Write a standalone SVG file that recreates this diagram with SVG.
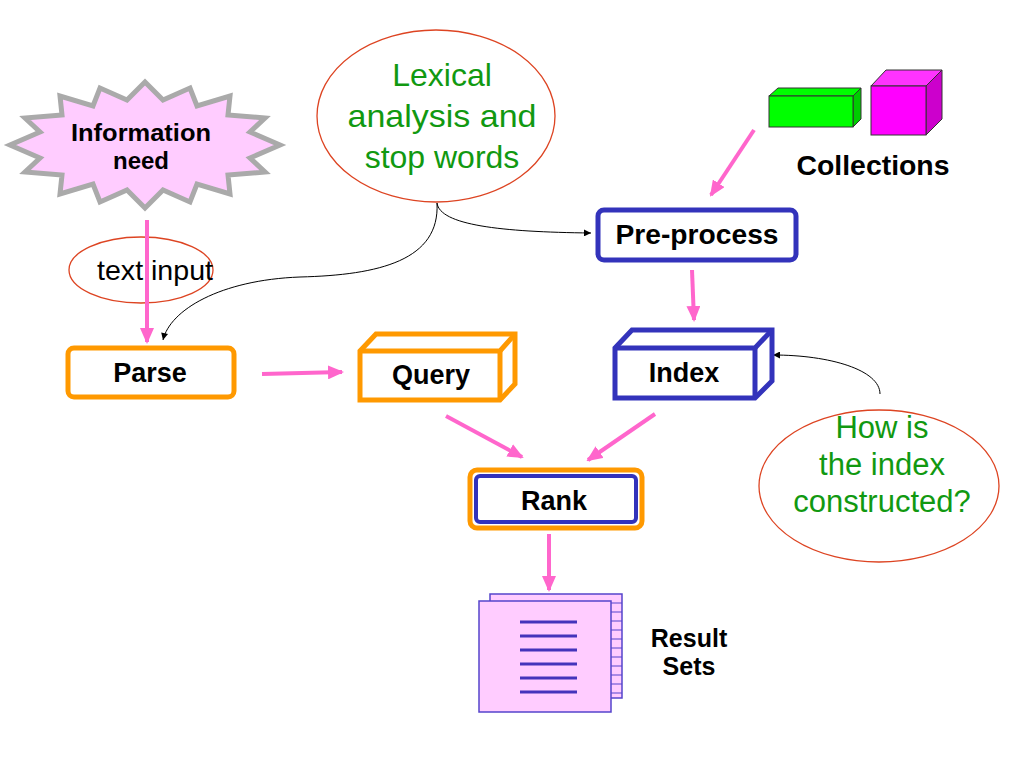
<svg xmlns="http://www.w3.org/2000/svg" width="1024" height="768" viewBox="0 0 1024 768">
<style>
.b{font-family:"Liberation Sans",Arial,sans-serif;font-weight:bold;fill:#000}
.g{font-family:"Liberation Sans",Arial,sans-serif;fill:#119911;text-anchor:middle}
.pk{stroke:#ff66cc;stroke-width:4;fill:none;marker-end:url(#pa)}
.bk{stroke:#000;stroke-width:1;fill:none;marker-end:url(#ba)}
.el{fill:#fff;stroke:#dd4422;stroke-width:1.3}
</style>
<defs>
<marker id="pa" viewBox="0 0 16 14" refX="14" refY="7" markerWidth="16" markerHeight="14" orient="auto" markerUnits="userSpaceOnUse"><path d="M0,0 L16,7 L0,14 Z" fill="#ff66cc"/></marker>
<marker id="ba" viewBox="0 0 10 10" refX="10" refY="5" markerWidth="9" markerHeight="7" orient="auto" markerUnits="userSpaceOnUse"><path d="M0,0 L10,5 L0,10 Z" fill="#000"/></marker>
</defs>
<rect width="1024" height="768" fill="#fff"/>
<g id="textinput"><ellipse class="el" cx="141" cy="270" rx="72" ry="33"/>
<text x="155" y="280" font-family="Liberation Sans,Arial,sans-serif" font-size="28" text-anchor="middle" textLength="116" lengthAdjust="spacingAndGlyphs">text input</text></g>
<g id="connectors">
<line class="pk" x1="147" y1="220" x2="147" y2="342"/>
<line class="pk" x1="262" y1="374" x2="342" y2="372"/>
<line class="pk" x1="754" y1="130" x2="711" y2="195"/>
<line class="pk" x1="692" y1="270" x2="694" y2="320"/>
<line class="pk" x1="446" y1="416" x2="522" y2="457"/>
<line class="pk" x1="655" y1="414" x2="588" y2="460"/>
<line class="pk" x1="549" y1="534" x2="549" y2="590"/>
<path class="bk" d="M437,203 C440,225 500,232 591,233"/>
<path class="bk" d="M437,203 C440,260 380,275 300,277 C220,280 170,310 163,340"/>
<path class="bk" d="M880,394 C880,370 830,355 773,355"/>
</g>
<g id="info">
<polygon fill="#ffccff" stroke="#aaaaaa" stroke-width="5" stroke-linejoin="miter" points="145,82 163,100 190,88 197,106 230,96 228,115 265,118 250,132 280,145 250,158 265,172 228,175 230,194 197,184 190,202 163,190 145,208 127,190 100,202 93,184 60,194 62,175 25,172 40,158 10,145 40,132 25,118 62,115 60,96 93,106 100,88 127,100"/>
<text class="b" font-size="24" x="141" y="141" text-anchor="middle" textLength="140" lengthAdjust="spacingAndGlyphs">Information</text>
<text class="b" font-size="24" x="141" y="169" text-anchor="middle">need</text>
</g>
<g id="lexical"><ellipse class="el" cx="436" cy="116" rx="119" ry="86"/>
<g font-size="32"><text class="g" x="442" y="86">Lexical</text><text class="g" x="442" y="127" textLength="189" lengthAdjust="spacingAndGlyphs">analysis and</text><text class="g" x="442" y="168">stop words</text></g></g>
<g id="collections">
<polygon points="769,96 778,88 861,88 853,96" fill="#00ff00" stroke="#333" stroke-width="1"/>
<polygon points="853,96 861,88 861,119 853,127" fill="#00cc00" stroke="#333" stroke-width="1"/>
<rect x="769" y="96" width="84" height="31" fill="#00ff00" stroke="#333" stroke-width="1"/>
<polygon points="871,86 886,70 942,70 926,86" fill="#ff33ff" stroke="#333" stroke-width="1"/>
<polygon points="926,86 942,70 942,119 926,135" fill="#cc00cc" stroke="#333" stroke-width="1"/>
<rect x="871" y="86" width="55" height="49" fill="#ff00ff" stroke="#333" stroke-width="1"/>
<text class="b" font-size="27" x="873" y="175" text-anchor="middle" textLength="153" lengthAdjust="spacingAndGlyphs">Collections</text>
</g>
<g id="preprocess"><rect x="598" y="210" width="198" height="50" rx="6" fill="#fff" stroke="#3333bb" stroke-width="5"/>
<text class="b" font-size="27" x="697" y="244" text-anchor="middle" textLength="163" lengthAdjust="spacingAndGlyphs">Pre-process</text></g>
<g id="parse"><rect x="68" y="348" width="166" height="49" rx="6" fill="#fff" stroke="#ff9900" stroke-width="5"/>
<text class="b" font-size="27" x="150" y="382" text-anchor="middle">Parse</text></g>
<g id="query" fill="#fff" stroke="#ff9900" stroke-width="5" stroke-linejoin="miter">
<polygon points="360,351 376,334 515,334 515,384 500,400 360,400 "/>
<polyline points="360,351 500,351 515,334" fill="none"/><line x1="500" y1="351" x2="500" y2="400"/>
<text class="b" font-size="27" x="431" y="384" text-anchor="middle" stroke="none">Query</text></g>
<g id="index" fill="#fff" stroke="#3333bb" stroke-width="5" stroke-linejoin="miter">
<polygon points="615,348 632,330 772,330 772,381 755,398 615,398"/>
<polyline points="615,348 755,348 772,330" fill="none"/><line x1="755" y1="348" x2="755" y2="398"/>
<text class="b" font-size="27" x="684" y="382" text-anchor="middle" stroke="none">Index</text></g>
<g id="how"><ellipse class="el" cx="879" cy="486" rx="120" ry="76"/>
<g font-size="31"><text class="g" x="882" y="438">How is</text><text class="g" x="882" y="475">the index</text><text class="g" x="882" y="512">constructed?</text></g></g>
<g id="rank"><rect x="470" y="470" width="172" height="58" rx="7" fill="#fff" stroke="#ff9900" stroke-width="5"/>
<rect x="476" y="476" width="160" height="46" rx="4" fill="#fff" stroke="#3333bb" stroke-width="4"/>
<text class="b" font-size="27" x="554" y="510" text-anchor="middle">Rank</text></g>
<g id="results">
<rect x="490" y="594" width="132" height="104" fill="#ffccff" stroke="#5544cc" stroke-width="1.5"/>
<path d="M611,603h11M611,612h11M611,621h11M611,630h11M611,639h11M611,648h11M611,657h11M611,666h11M611,675h11M611,684h11M611,693h11" stroke="#5544cc" stroke-width="1"/>
<rect x="479" y="601" width="132" height="111" fill="#ffccff" stroke="#5544cc" stroke-width="1.5"/>
<path d="M520,622h57M520,636h57M520,650h57M520,664h57M520,678h57M520,692h57" stroke="#4433bb" stroke-width="3"/>
<text class="b" font-size="25" x="689" y="647" text-anchor="middle">Result</text>
<text class="b" font-size="25" x="689" y="675" text-anchor="middle">Sets</text>
</g>
</svg>
